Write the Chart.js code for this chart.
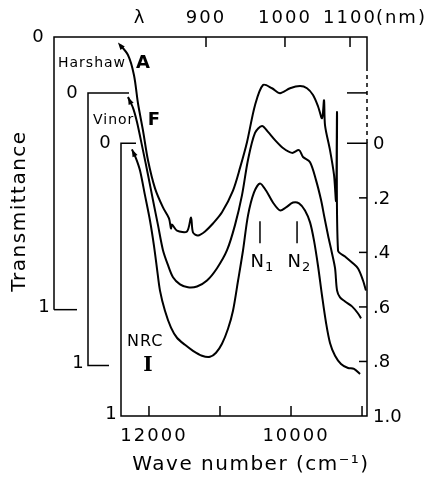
<!DOCTYPE html>
<html>
<head>
<meta charset="utf-8">
<script src="https://cdn.jsdelivr.net/npm/chart.js@4"></script>
<style>
  html, body { margin: 0; padding: 0; background: #fff; }
  canvas { display: block; }
</style>
</head>
<body>
<canvas id="myChart" width="425" height="479"></canvas>
<script>
// Harshaw A (wave number cm-1, transmittance in its own frame)
const wnA = [12437, 12296, 12211, 12155, 12085, 12014, 11915, 11803, 11718, 11690, 11676, 11606, 11465, 11408, 11380, 11310, 11211, 11099, 10972, 10817, 10718, 10620, 10507, 10394, 10268, 10155, 10014, 9873, 9775, 9690, 9620, 9563, 9535, 9521, 9451, 9394, 9366, 9352, 9338, 9239, 9141, 9056, 8986, 8944];
const valA = [0.02, 0.066, 0.14, 0.243, 0.342, 0.452, 0.555, 0.625, 0.665, 0.702, 0.688, 0.71, 0.713, 0.662, 0.717, 0.728, 0.713, 0.684, 0.643, 0.563, 0.48, 0.386, 0.25, 0.176, 0.188, 0.206, 0.188, 0.18, 0.188, 0.213, 0.254, 0.298, 0.232, 0.324, 0.415, 0.507, 0.6, 0.276, 0.783, 0.805, 0.827, 0.849, 0.893, 0.93];

// Vinor F
const wnF = [12296, 12225, 12169, 12085, 12014, 11944, 11873, 11803, 11732, 11662, 11563, 11451, 11324, 11183, 11042, 10901, 10789, 10690, 10606, 10507, 10408, 10324, 10225, 10113, 9986, 9887, 9831, 9732, 9648, 9577, 9535, 9479, 9423, 9380, 9352, 9310, 9239, 9141, 9056, 9014];
const valF = [0.015, 0.055, 0.107, 0.21, 0.30, 0.393, 0.485, 0.577, 0.632, 0.676, 0.702, 0.713, 0.71, 0.688, 0.643, 0.577, 0.485, 0.375, 0.246, 0.147, 0.121, 0.143, 0.173, 0.202, 0.22, 0.21, 0.235, 0.254, 0.32, 0.393, 0.449, 0.522, 0.588, 0.643, 0.724, 0.75, 0.765, 0.783, 0.809, 0.827];

// NRC I
const wnI = [12240, 12183, 12127, 12056, 11986, 11930, 11887, 11845, 11775, 11690, 11606, 11493, 11380, 11254, 11141, 11056, 10972, 10887, 10817, 10746, 10676, 10606, 10521, 10437, 10352, 10254, 10155, 10070, 9972, 9887, 9803, 9732, 9676, 9620, 9563, 9507, 9451, 9380, 9296, 9197, 9113, 9028];
const valI = [0.022, 0.055, 0.099, 0.191, 0.283, 0.375, 0.46, 0.54, 0.614, 0.676, 0.713, 0.739, 0.761, 0.779, 0.783, 0.768, 0.735, 0.68, 0.614, 0.504, 0.393, 0.265, 0.18, 0.147, 0.173, 0.217, 0.246, 0.235, 0.217, 0.22, 0.246, 0.29, 0.357, 0.449, 0.559, 0.658, 0.732, 0.779, 0.809, 0.824, 0.827, 0.846];

// axes
const rightTicks = [0, 0.2, 0.4, 0.6, 0.8, 1.0];
const rightLabels = ["0", ".2", ".4", ".6", ".8", "1.0"];
const bottomTicks = [12000, 11000, 10000, 9000];
const bottomLabels = ["12000", "", "10000", ""];
const topTickWn = [11197, 10085, 9169];
const topLabels = ["900", "1000", "1100"];
const markerWn = [10437, 9915];
const markerSubs = ["1", "2"];

// vertical offset of each curve's frame (in units of the NRC scale)
const offA = -0.39;
const offF = -0.185;

const toPts = (wn, val, off) => wn.map((w, i) => ({ x: w, y: val[i] + off }));

const FONT = '"DejaVu Sans", sans-serif';

const framePlugin = {
  id: "frames",
  afterDraw(chart) {
    const ctx = chart.ctx;
    const ca = chart.chartArea;
    const xs = chart.scales.x;
    const ys = chart.scales.y;
    const yA0 = ys.getPixelForValue(offA), yA1 = ys.getPixelForValue(offA + 1);
    const yF0 = ys.getPixelForValue(offF), yF1 = ys.getPixelForValue(offF + 1);
    const yI0 = ys.getPixelForValue(0), yI1 = ys.getPixelForValue(1);
    const iL = ca.left, fL = ca.left - 33, aL = ca.left - 67, R = ca.right;

    ctx.save();
    ctx.strokeStyle = "#000";
    ctx.fillStyle = "#000";
    ctx.lineWidth = 1.5;
    ctx.lineCap = "butt";

    const line = (pts) => {
      ctx.beginPath();
      ctx.moveTo(pts[0][0], pts[0][1]);
      pts.slice(1).forEach(p => ctx.lineTo(p[0], p[1]));
      ctx.stroke();
    };

    // frames
    line([[aL, yA1], [aL, yA0], [R, yA0], [R, yA0 + 30]]);
    line([[aL, yA1], [aL + 23, yA1]]);
    line([[fL + 41, yF0], [fL, yF0], [fL, yF1], [fL + 21, yF1]]);
    line([[iL + 15, yI0], [iL, yI0], [iL, yI1], [R, yI1], [R, yI0], [R - 20, yI0]]);
    line([[R - 20, yF0], [R, yF0]]);
    ctx.setLineDash([4, 4]);
    line([[R, yA0 + 30], [R, yI0]]);
    ctx.setLineDash([]);

    // right ticks + labels
    ctx.font = "18px " + FONT;
    ctx.textBaseline = "middle";
    ctx.textAlign = "left";
    rightTicks.forEach((v, i) => {
      const py = ys.getPixelForValue(v);
      if (v > 0 && v < 1) line([[R - 8, py], [R, py]]);
      ctx.fillText(rightLabels[i], R + 6, py + 1);
    });

    // bottom ticks + labels
    ctx.textAlign = "center";
    ctx.letterSpacing = "2px";
    bottomTicks.forEach((w, i) => {
      const px = xs.getPixelForValue(w);
      line([[px, yI1], [px, yI1 - 10]]);
      if (bottomLabels[i]) ctx.fillText(bottomLabels[i], px + 5, yI1 + 20);
    });

    // top ticks + labels
    topTickWn.forEach((w, i) => {
      const px = xs.getPixelForValue(w);
      line([[px, yA0], [px, yA0 + 10]]);
      ctx.fillText(topLabels[i], px, yA0 - 19);
      if (i === topLabels.length - 1) {
        const tw = ctx.measureText(topLabels[i]).width;
        ctx.textAlign = "left";
        ctx.fillText("(nm)", px + tw / 2 - 1, yA0 - 19);
        ctx.textAlign = "center";
      }
    });
    ctx.fillText("λ", iL + 19, yA0 - 19);

    // left frame labels
    [[aL, yA0, yA1], [fL, yF0, yF1], [iL, yI0, yI1]].forEach(f => {
      ctx.fillText("0", f[0] - 15, f[1]);
      ctx.fillText("1", f[0] - 9, f[2] - 2);
    });
    ctx.letterSpacing = "0px";

    // sample names
    ctx.textAlign = "left";
    ctx.font = "14px " + FONT;
    ctx.letterSpacing = "1px";
    ctx.fillText("Harshaw", aL + 4, yA0 + 26);
    ctx.fillText("Vinor", fL + 5, yF0 + 27);
    ctx.font = "16px " + FONT;
    ctx.fillText("NRC", iL + 6, yI0 + 199);
    ctx.letterSpacing = "0px";
    ctx.font = "bold 18px " + FONT;
    ctx.textAlign = "center";
    ctx.fillText("A", iL + 22, yA0 + 26);
    ctx.fillText("F", iL + 33, yF0 + 27);
    ctx.font = 'bold 20px "DejaVu Serif", serif';
    ctx.fillText("I", iL + 27, yI0 + 222);

    // N1 / N2 markers
    markerWn.forEach((w, i) => {
      const px = xs.getPixelForValue(w);
      line([[px, yI0 + 78], [px, yI0 + 100]]);
      ctx.font = "18px " + FONT;
      ctx.textAlign = "right";
      ctx.fillText("N", px + 4, yI0 + 119);
      ctx.font = "13px " + FONT;
      ctx.textAlign = "left";
      ctx.fillText(markerSubs[i], px + 5, yI0 + 124);
    });

    // arrowheads at the start of each curve
    chart.data.datasets.forEach((ds, di) => {
      const meta = chart.getDatasetMeta(di);
      const p0 = meta.data[0], p1 = meta.data[1];
      const ang = Math.atan2(p0.y - p1.y, p0.x - p1.x);
      const s = 8;
      ctx.beginPath();
      ctx.moveTo(p0.x, p0.y);
      ctx.lineTo(p0.x - s * Math.cos(ang - 0.35), p0.y - s * Math.sin(ang - 0.35));
      ctx.lineTo(p0.x - s * Math.cos(ang + 0.35), p0.y - s * Math.sin(ang + 0.35));
      ctx.closePath();
      ctx.fill();
    });

    // axis titles
    ctx.font = "20px " + FONT;
    ctx.letterSpacing = "1.5px";
    ctx.textAlign = "center";
    ctx.fillText("Wave number (cm⁻¹)", 251, yI1 + 49);
    ctx.translate(20, 211);
    ctx.rotate(-Math.PI / 2);
    ctx.fillText("Transmittance", 0, 0);
    ctx.restore();
  }
};

const lineStyle = { borderColor: "#000", borderWidth: 2, pointRadius: 0, tension: 0.3, fill: false };

new Chart(document.getElementById("myChart"), {
  type: "line",
  data: {
    datasets: [
      { label: "Harshaw A", data: toPts(wnA, valA, offA), ...lineStyle },
      { label: "Vinor F", data: toPts(wnF, valF, offF), ...lineStyle },
      { label: "NRC I", data: toPts(wnI, valI, 0), ...lineStyle },
    ],
  },
  options: {
    responsive: false,
    animation: false,
    layout: { padding: { left: 121, right: 58, top: 37, bottom: 63 } },
    scales: {
      x: { type: "linear", min: 8930, max: 12394, reverse: true, display: false },
      y: { type: "linear", min: offA, max: 1.0, reverse: true, display: false },
    },
    plugins: { legend: { display: false }, tooltip: { enabled: false } },
  },
  plugins: [framePlugin],
});
</script>
</body>
</html>
